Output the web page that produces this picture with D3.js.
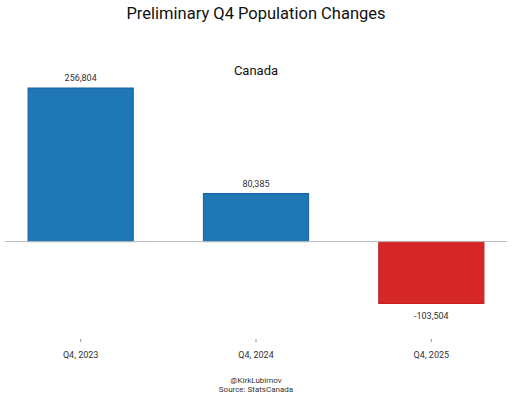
<!DOCTYPE html>
<html>
<head>
<meta charset="utf-8">
<script src="https://cdn.jsdelivr.net/npm/d3@7"></script>
<style>
  body { margin: 0; background: #fff; }
  text { font-family: Roboto, "Open Sans", sans-serif; }
</style>
</head>
<body>
<div id="chart"></div>
<script>
var categories = ['Q4, 2023', 'Q4, 2024', 'Q4, 2025'];
var values = [256804, 80385, -103504];

var width = 512;
var height = 399;

var svg = d3.select('#chart').append('svg')
  .attr('width', width)
  .attr('height', height);

// band scale tuned so bars land where the reference has them
var x = d3.scaleBand()
  .domain(categories)
  .range([-7, 519])
  .paddingInner(0.4)
  .paddingOuter(0.2);

var y = d3.scaleLinear()
  .domain([-103504, 256804])
  .range([303.5, 88]);

svg.append('text')
  .attr('x', width / 2)
  .attr('y', 19)
  .attr('text-anchor', 'middle')
  .attr('font-size', 16.5)
  .attr('fill', '#111')
  .text('Preliminary Q4 Population Changes');

svg.append('text')
  .attr('x', width / 2)
  .attr('y', 75)
  .attr('text-anchor', 'middle')
  .attr('font-size', 13)
  .attr('fill', '#111')
  .text('Canada');

var data = categories.map(function(c, i) { return {cat: c, value: values[i]}; });

svg.selectAll('rect.bar')
  .data(data)
  .enter()
  .append('rect')
    .attr('class', 'bar')
    .attr('x', function(d) { return x(d.cat); })
    .attr('width', x.bandwidth())
    .attr('y', function(d) { return y(Math.max(0, d.value)); })
    .attr('height', function(d) { return Math.abs(y(d.value) - y(0)); })
    .attr('fill', function(d) { return d.value >= 0 ? '#1f77b4' : '#d62728'; })
    .attr('stroke', function(d) { return d.value >= 0 ? '#1560a8' : '#c81e1e'; })
    .attr('stroke-width', 1);

svg.append('line')
  .attr('x1', 5)
  .attr('x2', 507)
  .attr('y1', y(0))
  .attr('y2', y(0))
  .attr('stroke', '#bbb')
  .attr('stroke-width', 1);

svg.selectAll('text.val')
  .data(data)
  .enter()
  .append('text')
    .attr('class', 'val')
    .attr('x', function(d) { return x(d.cat) + x.bandwidth() / 2; })
    .attr('y', function(d) { return d.value >= 0 ? y(d.value) - 7 : y(d.value) + 15; })
    .attr('text-anchor', 'middle')
    .attr('font-size', 9)
    .attr('fill', '#333')
    .text(function(d) { return d3.format(',')(d.value).replace('−', '-'); });

var xAxis = d3.axisBottom(x).tickSize(3).tickPadding(10);
var axisG = svg.append('g')
  .attr('transform', 'translate(0,339)')
  .call(xAxis);
axisG.select('.domain').remove();
axisG.selectAll('.tick line').attr('stroke', '#999');
axisG.selectAll('.tick text')
  .attr('font-size', 9)
  .attr('fill', '#333')
  .style('font-family', 'Roboto, "Open Sans", sans-serif');

svg.append('text')
  .attr('x', width / 2)
  .attr('y', 383)
  .attr('text-anchor', 'middle')
  .attr('font-size', 8)
  .attr('fill', '#333')
  .text('@KirkLubimov');

svg.append('text')
  .attr('x', width / 2)
  .attr('y', 392)
  .attr('text-anchor', 'middle')
  .attr('font-size', 8)
  .attr('fill', '#333')
  .text('Source: StatsCanada');
</script>
</body>
</html>
